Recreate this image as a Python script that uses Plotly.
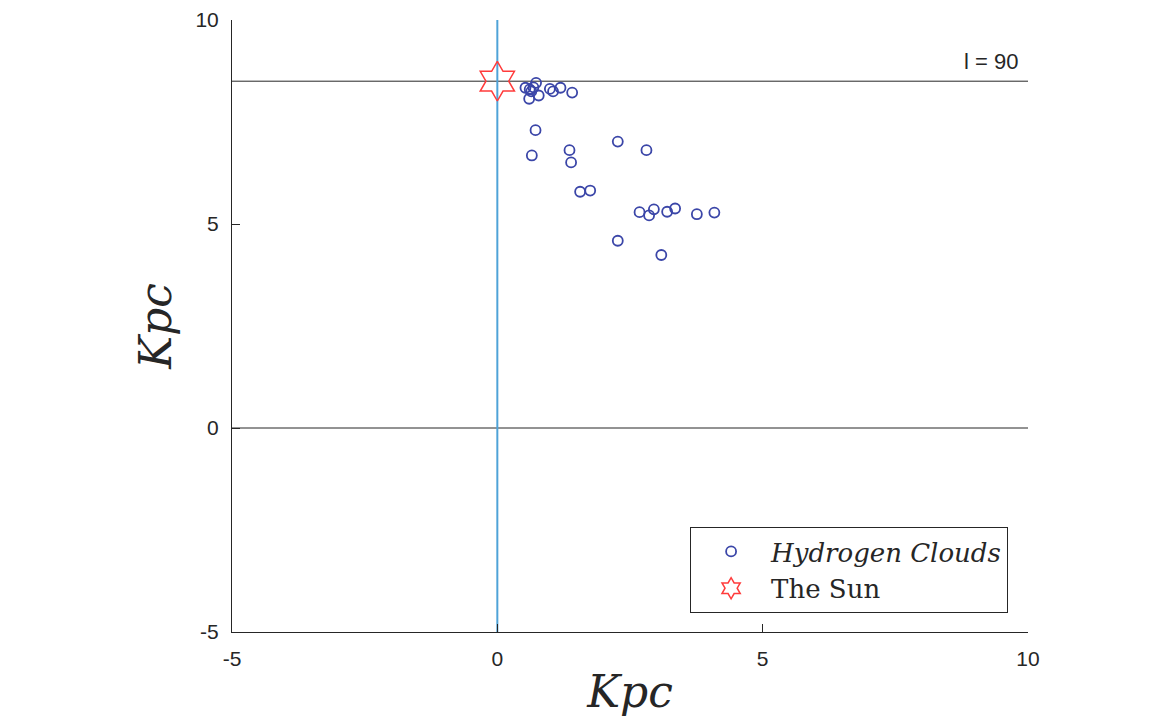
import plotly.graph_objects as go

# Hydrogen cloud positions (Kpc)
cloud_x = [0.53, 0.61, 0.68, 0.73, 0.60, 0.78, 0.64, 0.99, 1.05, 1.19, 1.41,
           0.72, 0.65, 1.36, 1.39, 2.27, 2.81, 1.56, 1.75, 2.27, 2.68, 2.86,
           2.95, 3.20, 3.35, 3.76, 4.09, 3.09]
cloud_y = [8.34, 8.30, 8.35, 8.46, 8.07, 8.15, 8.25, 8.31, 8.25, 8.34, 8.22,
           7.30, 6.68, 6.81, 6.51, 7.02, 6.81, 5.79, 5.82, 4.59, 5.29, 5.21,
           5.36, 5.30, 5.38, 5.24, 5.28, 4.24]
sun_x = [0.0]
sun_y = [8.5]
hline_y = [8.5, 0.0]
vline_x = [0.0]
x_range = [-5, 10]
y_range = [-5, 10]
tick_vals = [-5, 0, 5, 10]
tick_text = ["-5", "0", "5", "10"]
l_label = "l = 90"

fig = go.Figure()

for hy in hline_y:
    fig.add_trace(go.Scatter(x=x_range, y=[hy, hy], mode="lines",
                             line=dict(color="#262626", width=1),
                             showlegend=False, hoverinfo="skip"))
for vx in vline_x:
    fig.add_trace(go.Scatter(x=[vx, vx], y=y_range, mode="lines",
                             line=dict(color="#4fa3d8", width=2),
                             showlegend=False, hoverinfo="skip"))

fig.add_trace(go.Scatter(
    x=cloud_x, y=cloud_y, mode="markers", name="<i>Hydrogen Clouds</i>",
    marker=dict(symbol="circle-open", size=10, color="#3b46a8",
                line=dict(width=1.8, color="#3b46a8"))))
fig.add_trace(go.Scatter(
    x=sun_x, y=sun_y, mode="markers", name="The Sun",
    marker=dict(symbol="hexagram-open", size=30, color="#ff3b3b",
                line=dict(width=1.5, color="#ff3b3b"))))

fig.add_annotation(x=x_range[1], y=hline_y[0], xref="x", yref="y",
                   text=l_label, showarrow=False, xanchor="right",
                   yanchor="bottom", xshift=-8, yshift=5,
                   font=dict(family="Liberation Sans, Arial", size=22, color="#262626"))

axis_common = dict(
    showgrid=False, zeroline=False, showline=True, linecolor="#262626",
    linewidth=1, ticks="inside", ticklen=8, tickcolor="#262626",
    tickvals=tick_vals, ticktext=tick_text, mirror=False,
    ticklabelstandoff=8, automargin=False,
    tickfont=dict(family="Liberation Sans, Arial", size=21, color="#262626"),
)

fig.update_layout(
    width=1166, height=727,
    margin=dict(l=232, r=138, t=20, b=95),
    paper_bgcolor="white", plot_bgcolor="white",
    xaxis=dict(range=x_range, **axis_common,
               title=dict(text="<i>Kpc</i>", standoff=6,
                          font=dict(family="DejaVu Serif", size=44, color="#262626"))),
    yaxis=dict(range=y_range, **axis_common,
               title=dict(text="<i>Kpc</i>", standoff=10,
                          font=dict(family="DejaVu Serif", size=44, color="#262626"))),
    legend=dict(x=0.975, y=0.031, xanchor="right", yanchor="bottom",
                bgcolor="white", bordercolor="#262626", borderwidth=1,
                font=dict(family="DejaVu Serif", size=26, color="#262626"),
                itemwidth=70, tracegroupgap=0),
    showlegend=True,
)

fig.write_html("out.html")
